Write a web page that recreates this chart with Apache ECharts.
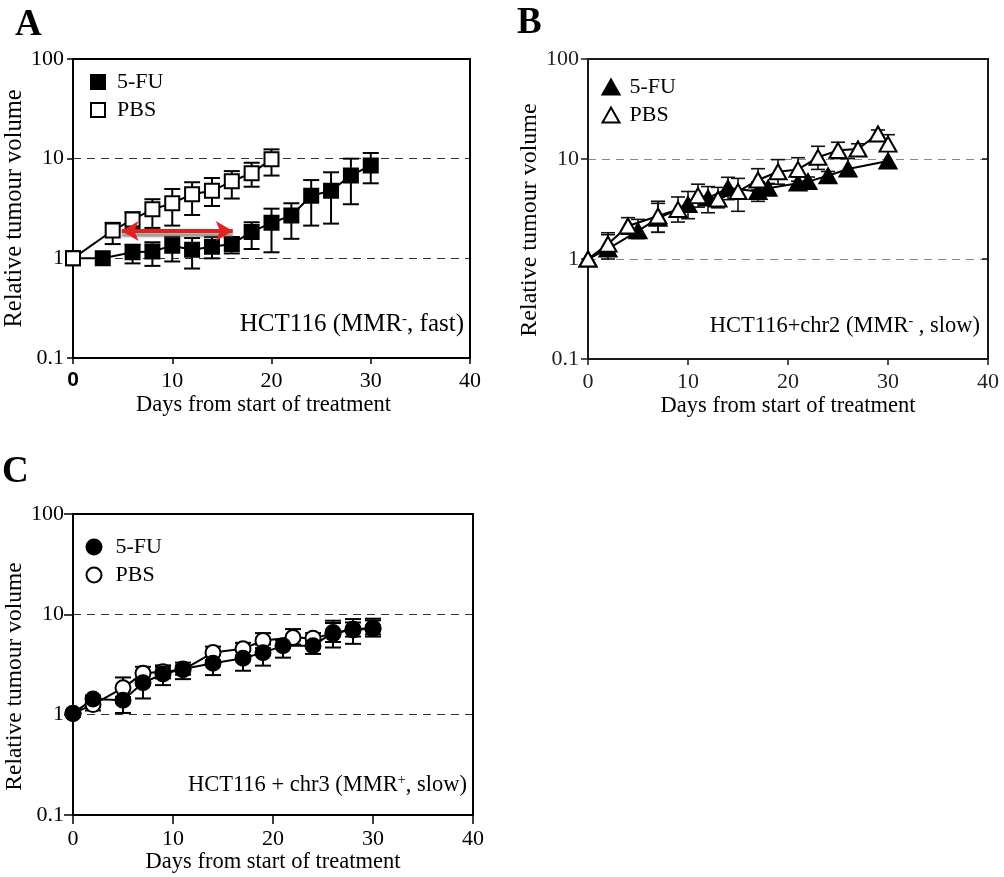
<!DOCTYPE html>
<html>
<head>
<meta charset="utf-8">
<script src="https://cdn.jsdelivr.net/npm/echarts@6/dist/echarts.min.js"></script>
<style>
  html, body { margin: 0; padding: 0; background: #fff; }
  #chart { width: 1004px; height: 877px; }
</style>
</head>
<body>
<div id="chart"></div>
<script>
// Relative tumour volume after treatment start.
// Each row: [day, mean, lower error, upper error]

// A: HCT116 (MMR-, fast)
const fastFU = [
  [0, 1.0, 1.0, 1.0], [3, 1.0, 1.0, 1.0], [6, 1.15, 0.89, 1.37], [8, 1.17, 0.84, 1.45],
  [10, 1.34, 0.93, 1.64], [12, 1.22, 0.79, 1.6], [14, 1.31, 1.0, 1.64], [16, 1.39, 1.12, 1.62],
  [18, 1.84, 1.24, 2.3], [20, 2.27, 1.15, 3.15], [22, 2.69, 1.57, 3.57], [24, 4.24, 2.13, 6.1],
  [26, 4.76, 2.23, 7.3], [28, 6.77, 3.49, 10.0], [30, 8.55, 5.66, 11.4]
];
const fastPBS = [
  [0, 1.0, 1.0, 1.0], [4, 1.9, 1.39, 2.27], [6, 2.45, 2.0, 2.9], [8, 3.1, 2.02, 3.92],
  [10, 3.57, 2.13, 4.96], [12, 4.4, 2.72, 5.8], [14, 4.76, 3.35, 6.4], [16, 5.93, 3.98, 7.5],
  [18, 7.15, 5.23, 9.1], [20, 9.85, 6.77, 12.4]
];
// span of the delay arrow (days, tip to tip) and its height on the volume scale
const delaySpan = [4.9, 16.1];
const delayLevel = 1.88;

// B: HCT116+chr2 (MMR-, slow)
const chr2FU = [
  [0, 1.0, 1.0, 1.0], [2, 1.26, 1.0, 1.75], [5, 1.91, 1.6, 2.49], [7, 2.55, 1.85, 3.6],
  [10, 3.5, 2.53, 4.73], [12, 4.07, 2.9, 5.3], [14, 5.12, 3.92, 6.56], [17, 4.73, 3.77, 5.9],
  [18, 5.1, 4.5, 5.7], [21, 5.73, 5.0, 6.6], [22, 5.94, 5.3, 6.6], [24, 6.8, 6.0, 7.5],
  [26, 7.93, 7.0, 10.1], [30, 9.55, 8.5, 12.3]
];
const chr2PBS = [
  [0, 1.0, 1.0, 1.0], [2, 1.41, 1.13, 1.83], [4, 2.14, 1.77, 2.59], [7, 2.69, 1.85, 3.78],
  [9, 3.13, 2.34, 4.17], [11, 4.3, 3.3, 5.6], [13, 3.98, 3.25, 5.2], [15, 4.73, 3.0, 6.4],
  [17, 6.17, 4.9, 8.0], [19, 7.45, 5.6, 9.86], [21, 7.87, 6.0, 10.3], [23, 10.4, 7.87, 13.4],
  [25, 12.2, 10.1, 14.7], [27, 12.6, 11.0, 14.2], [29, 17.8, 16.0, 19.5], [30, 14.1, 12.0, 17.5]
];

// C: HCT116 + chr3 (MMR+, slow)
const chr3FU = [
  [0, 1.03, 1.03, 1.03], [2, 1.43, 1.3, 1.55], [5, 1.39, 1.04, 1.8], [7, 2.08, 1.45, 2.6],
  [9, 2.54, 1.97, 3.0], [11, 2.85, 2.26, 3.3], [14, 3.25, 2.48, 4.0], [17, 3.65, 2.74, 4.3],
  [19, 4.15, 3.08, 5.0], [21, 4.85, 3.7, 5.5], [24, 4.85, 4.03, 5.6], [26, 6.6, 4.67, 8.64],
  [28, 7.0, 5.08, 8.97], [30, 7.18, 6.0, 9.05]
];
const chr3PBS = [
  [0, 1.03, 1.03, 1.03], [2, 1.26, 1.1, 1.45], [5, 1.85, 1.5, 2.35], [7, 2.58, 2.2, 3.0],
  [9, 2.68, 2.3, 3.1], [11, 2.8, 2.5, 3.1], [14, 4.16, 3.5, 4.77], [17, 4.53, 3.9, 5.2],
  [19, 5.48, 4.6, 6.5], [22, 5.88, 5.0, 7.13], [24, 5.79, 5.0, 6.5], [26, 6.4, 5.3, 8.2],
  [28, 7.1, 6.0, 8.3], [30, 7.3, 6.3, 8.7]
];

// axes
const dayRange = [0, 40];
const dayStep = 10;
const volumeRange = [0.1, 100];
const groupNames = ['5-FU', 'PBS'];
const xTitle = 'Days from start of treatment';
const yTitle = 'Relative tumour volume';

const SERIF = "'Liberation Serif', 'Times New Roman', serif";

function errorBars(rows, gi, cap, width, color) {
  return {
    type: 'custom',
    xAxisIndex: gi,
    yAxisIndex: gi,
    silent: true,
    animation: false,
    clip: false,
    data: rows.filter(r => r[2] !== r[3]).map(r => [r[0], r[2], r[3]]),
    encode: { x: 0, y: [1, 2] },
    renderItem(params, api) {
      const lo = api.coord([api.value(0), api.value(1)]);
      const hi = api.coord([api.value(0), api.value(2)]);
      const h = cap / 2;
      const style = { stroke: color, lineWidth: width, fill: null };
      return {
        type: 'group',
        children: [
          { type: 'line', shape: { x1: lo[0], y1: lo[1], x2: hi[0], y2: hi[1] }, style },
          { type: 'line', shape: { x1: hi[0] - h, y1: hi[1], x2: hi[0] + h, y2: hi[1] }, style },
          { type: 'line', shape: { x1: lo[0] - h, y1: lo[1], x2: lo[0] + h, y2: lo[1] }, style }
        ]
      };
    }
  };
}

function trend(name, rows, gi, symbol, size, fill, extra) {
  return Object.assign({
    name,
    type: 'line',
    xAxisIndex: gi,
    yAxisIndex: gi,
    data: rows.map(r => [r[0], r[1]]),
    symbol,
    symbolSize: size,
    showAllSymbol: true,
    animation: false,
    clip: false,
    lineStyle: { color: '#000', width: 2 },
    itemStyle: { color: fill, borderColor: '#000', borderWidth: 2, opacity: 1 },
    emphasis: { disabled: true }
  }, extra || {});
}

function xAxisFor(gi, o) {
  return {
    type: 'value', gridIndex: gi,
    min: dayRange[0], max: dayRange[1], interval: dayStep,
    name: xTitle, nameLocation: 'middle', nameGap: o.nameGap,
    nameTextStyle: { fontFamily: SERIF, fontSize: 22.5, color: '#000', padding: o.namePad || 0 },
    axisLine: { show: true, onZero: false, lineStyle: { color: o.color, width: 2 } },
    axisTick: { show: true, length: o.tick, lineStyle: { color: o.color, width: 1.5 } },
    axisLabel: {
      fontFamily: SERIF, fontSize: 22, color: o.labelColor, margin: o.margin,
      showMinLabel: true, showMaxLabel: true,
      formatter: o.formatter, rich: o.rich
    },
    splitLine: { show: false }
  };
}

function yAxisFor(gi, o) {
  return {
    type: 'log', logBase: 10, gridIndex: gi,
    min: volumeRange[0], max: volumeRange[1],
    name: yTitle, nameLocation: 'middle', nameRotate: 90, nameGap: o.nameGap,
    nameTextStyle: { fontFamily: SERIF, fontSize: o.nameSize, color: '#000', padding: o.namePad || 0 },
    axisLine: { show: true, lineStyle: { color: o.color, width: 2 } },
    axisTick: { show: true, length: o.tick, lineStyle: { color: o.color, width: 1.5 } },
    axisLabel: {
      fontFamily: SERIF, fontSize: 22, color: o.labelColor, margin: o.margin,
      showMinLabel: true, showMaxLabel: true,
      formatter: v => String(+Number(v).toPrecision(3))
    },
    splitLine: {
      show: true, showMinLine: false, showMaxLine: false,
      lineStyle: { type: [8, 6], color: o.dash, width: 1.2 }
    }
  };
}

function legendFor(left, top, icon, w, h, pad) {
  return {
    orient: 'vertical', left, top, padding: 0, itemGap: 6,
    itemWidth: w, itemHeight: h, selectedMode: false,
    textStyle: { fontFamily: SERIF, fontSize: 22, color: '#000', lineHeight: 22, padding: [0, 0, 0, pad] },
    data: [
      { name: groupNames[0], icon, itemStyle: { color: '#000', borderColor: '#000', borderWidth: 2 } },
      { name: groupNames[1], icon, itemStyle: { color: '#fff', borderColor: '#000', borderWidth: 2 } }
    ]
  };
}

function label(text, x, y, size, rich) {
  return {
    type: 'text', x, y, z: 10, silent: true,
    style: {
      text, fill: '#000',
      font: size + 'px ' + SERIF,
      align: 'right', textAlign: 'right',
      verticalAlign: 'middle', textVerticalAlign: 'middle',
      rich
    }
  };
}
function letter(text, x, y) {
  return {
    type: 'text', x, y, z: 10, silent: true,
    style: {
      text, fill: '#000', font: 'bold 37px ' + SERIF,
      align: 'left', textAlign: 'left',
      verticalAlign: 'middle', textVerticalAlign: 'middle'
    }
  };
}

const supStyle = size => ({ fontFamily: SERIF, fontSize: size, verticalAlign: 'top' });

const chart = echarts.init(document.getElementById('chart'), null, { renderer: 'canvas' });

chart.setOption({
  backgroundColor: '#fff',
  animation: false,
  grid: [
    { left: 73, top: 59, width: 397, height: 299, show: true, borderColor: '#000', borderWidth: 2, z: 1 },
    { left: 588, top: 59, width: 400, height: 300, show: true, borderColor: '#1a1a1a', borderWidth: 2, z: 1 },
    { left: 73, top: 514, width: 400, height: 301, show: true, borderColor: '#000', borderWidth: 2, z: 1 }
  ],
  xAxis: [
    xAxisFor(0, {
      color: '#000', labelColor: '#000', tick: 6, margin: 12, nameGap: 36, namePad: [0, 16, 0, 0],
      formatter: v => (v === 0 ? '{s|0}' : String(v)),
      rich: { s: { fontFamily: "'Liberation Sans', Arial, sans-serif", fontSize: 21, fontWeight: 'bold', color: '#000' } }
    }),
    xAxisFor(1, { color: '#1a1a1a', labelColor: '#222', tick: 6, margin: 12, nameGap: 36 }),
    xAxisFor(2, { color: '#000', labelColor: '#000', tick: 9, margin: 13, nameGap: 36 })
  ],
  yAxis: [
    yAxisFor(0, { color: '#000', labelColor: '#000', tick: 6, margin: 9, nameGap: 42, nameSize: 24.5, dash: '#333' }),
    yAxisFor(1, { color: '#1a1a1a', labelColor: '#222', tick: 7, margin: 9, nameGap: 44, nameSize: 24, dash: '#888', namePad: [0, 22, 0, 0] }),
    yAxisFor(2, { color: '#000', labelColor: '#000', tick: 9, margin: 9, nameGap: 46, nameSize: 23.5, dash: '#333', namePad: [0, 24, 0, 0] }),
    // inner half of the crossing ticks on panel B
    {
      type: 'log', logBase: 10, gridIndex: 1, min: volumeRange[0], max: volumeRange[1],
      axisLine: { show: false }, axisLabel: { show: false }, splitLine: { show: false },
      axisTick: { show: true, inside: true, length: 6, lineStyle: { color: '#1a1a1a', width: 1.5 } }
    }
  ],
  legend: [
    legendFor(90, 71, 'rect', 14, 14, 7),
    legendFor(601.5, 76, 'triangle', 17, 15, 5),
    legendFor(85.5, 536, 'circle', 15, 15, 9)
  ],
  series: [
    // A
    errorBars(fastFU, 0, 16, 2, '#000'),
    trend(groupNames[0], fastFU, 0, 'rect', 14, '#000'),
    errorBars(fastPBS, 0, 16, 2, '#000'),
    trend(groupNames[1], fastPBS, 0, 'rect', 14, '#fff', {
      markLine: {
        silent: true, animation: false,
        symbol: ['arrow', 'arrow'], symbolSize: [15, 17],
        label: { show: false },
        lineStyle: {
          color: '#e3211f', width: 4, type: 'solid',
          shadowColor: 'rgba(100,100,100,0.65)', shadowBlur: 2, shadowOffsetY: 4
        },
        itemStyle: { color: '#e3211f' },
        data: [[
          { coord: [delaySpan[0], delayLevel] },
          { coord: [delaySpan[1], delayLevel] }
        ]]
      }
    }),
    // B
    errorBars(chr2FU, 1, 14, 1.6, '#111'),
    trend(groupNames[0], chr2FU, 1, 'triangle', [17, 15], '#000'),
    errorBars(chr2PBS, 1, 14, 1.6, '#111'),
    trend(groupNames[1], chr2PBS, 1, 'triangle', [17, 15], '#fff'),
    // C
    errorBars(chr3PBS, 2, 16, 2, '#000'),
    trend(groupNames[1], chr3PBS, 2, 'circle', 15, '#fff'),
    errorBars(chr3FU, 2, 16, 2, '#000'),
    trend(groupNames[0], chr3FU, 2, 'circle', 15, '#000')
  ],
  graphic: [
    letter('A', 15, 25),
    letter('B', 517, 23),
    letter('C', 2, 472),
    label('HCT116 (MMR{sup|-}, fast)', 464, 324, 25, { sup: supStyle(15) }),
    label('HCT116+chr2 (MMR{sup|-} , slow)', 980, 326, 22.5, { sup: supStyle(14) }),
    label('HCT116 + chr3 (MMR{sup|+}, slow)', 467, 785, 22.5, { sup: supStyle(14) })
  ]
});
</script>
</body>
</html>
